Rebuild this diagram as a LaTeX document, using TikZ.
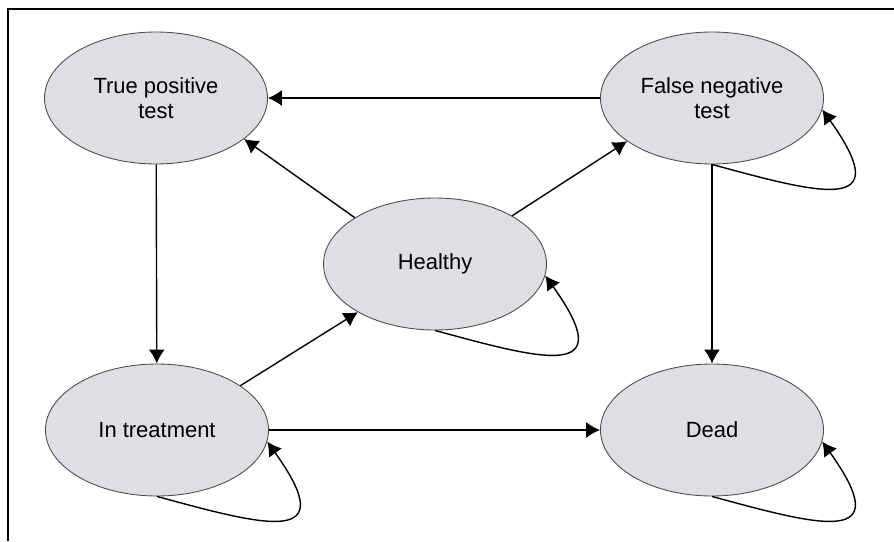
\documentclass[tikz,border=0pt]{standalone}
\usepackage{fontspec}
\setmainfont{Liberation Sans}
\usetikzlibrary{arrows.meta,shapes.geometric}
\definecolor{stategray}{RGB}{221,223,227}
\tikzset{%
	state/.style = {draw=black!70, line width=0.5pt, fill=stategray, ellipse, inner sep=0pt, minimum width=4.46cm, minimum height=2.64cm, align=center, font=\fontsize{12.5}{14}\selectfont},
	arrow/.style = {thick, -{Latex[length=2.8mm,width=3.2mm]}},
}
\begin{document}
\begin{tikzpicture}
	\useasboundingbox (0,0) rectangle (17.88,10.82);
	\draw[line width=0.6pt] (0.16,0) -- (0.16,10.64) -- (17.88,10.64);  % frame
	% states
	\node[state] (tp) at (3.12,8.86) {True positive\\test};
	\node[state] (fn) at (14.24,8.86) {False negative\\test};
	\node[state] (h) at (8.70,5.54) {Healthy};
	\node[state] (it) at (3.14,2.22) {In treatment};
	\node[state] (d) at (14.24,2.22) {Dead};
	% transitions
	\draw[arrow] (fn) -- (tp);
	\draw[arrow] (h.150) -- (tp.-25);
	\draw[arrow] (h.32) -- (fn.207);
	\draw[arrow] (tp) -- (it);
	\draw[arrow] (it.28) -- (h.212);
	\draw[arrow] (it) -- (d);
	\draw[arrow] (fn) -- (d);
	% self loops
	\draw[arrow] (fn.south) .. controls +(2.2,-0.6) and +(1.5,-2.1) .. (fn.-6);
	\draw[arrow] (h.south) .. controls +(2.2,-0.6) and +(1.5,-2.1) .. (h.-6);
	\draw[arrow] (it.south) .. controls +(2.2,-0.6) and +(1.5,-2.1) .. (it.-6);
	\draw[arrow] (d.south) .. controls +(2.2,-0.6) and +(1.5,-2.1) .. (d.-6);
\end{tikzpicture}
\end{document}
